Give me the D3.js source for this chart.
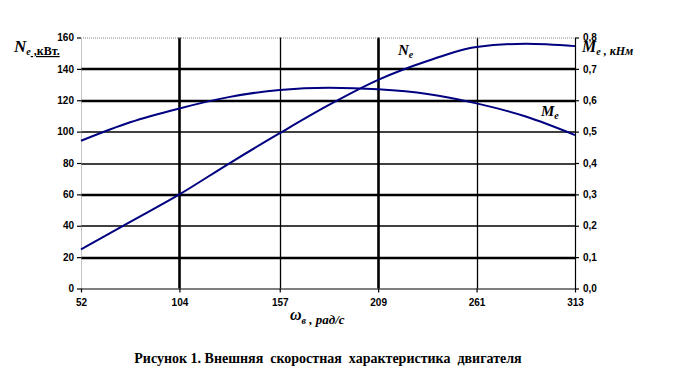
<!DOCTYPE html>
<html>
<head>
<meta charset="utf-8">
<script src="https://cdn.jsdelivr.net/npm/d3@7"></script>
<style>
  body { margin: 0; background: #fff; }
  .title { font-family: "Liberation Serif", "Times New Roman", serif; font-weight: bold; font-style: italic; fill: #000; }
</style>
</head>
<body>
<div id="chart"></div>
<script>
// Data
const omega = [52, 78, 104, 130, 157, 183, 209, 235, 261, 287, 313];
const powerN = [25, 42.5, 60, 79.5, 99, 117, 133, 145, 154, 156, 154.5];
const torqueM = [0.471, 0.53, 0.574, 0.61, 0.633, 0.64, 0.635, 0.62, 0.59, 0.548, 0.489];
const xTicks = [52, 104, 157, 209, 261, 313];
const leftTicks = [0, 20, 40, 60, 80, 100, 120, 140, 160];
const rightTicks = [0, 0.1, 0.2, 0.3, 0.4, 0.5, 0.6, 0.7, 0.8];

const width = 682, height = 383;
const margin = { left: 81, top: 37.5, right: 107, bottom: 94.5 };
const innerWidth = width - margin.left - margin.right;
const innerHeight = height - margin.top - margin.bottom;

const svg = d3.select("#chart")
  .append("svg")
    .attr("width", width)
    .attr("height", height);

const inner = svg.append("g")
  .attr("transform", `translate(${margin.left}, ${margin.top})`);

/* scales */
const xScale = d3.scaleLinear().domain([52, 313]).range([0, innerWidth]);
const yLeft = d3.scaleLinear().domain([0, 160]).range([innerHeight, 0]);
const yRight = d3.scaleLinear().domain([0, 0.8]).range([innerHeight, 0]);

/* gridlines */
const thickH = [140, 120, 60, 20];
const thickV = [104, 209];
inner.selectAll(".grid-h")
  .data(leftTicks.filter(d => d > 0 && d < 160))
  .join("line")
    .attr("x1", 0).attr("x2", innerWidth)
    .attr("y1", d => Math.round(yLeft(d)) + 0.5)
    .attr("y2", d => Math.round(yLeft(d)) + 0.5)
    .attr("stroke", "#000")
    .attr("stroke-width", d => thickH.includes(d) ? 2.6 : 1.3);
inner.selectAll(".grid-v")
  .data(xTicks.slice(1, -1))
  .join("line")
    .attr("x1", d => Math.round(xScale(d)) + 0.5)
    .attr("x2", d => Math.round(xScale(d)) + 0.5)
    .attr("y1", 0).attr("y2", innerHeight)
    .attr("stroke", "#000")
    .attr("stroke-width", d => thickV.includes(d) ? 2.6 : 1.3);

// dotted plot-area border (top, left)
inner.append("path")
  .attr("d", `M0.5,${innerHeight} L0.5,0.5 L${innerWidth},0.5`)
  .attr("fill", "none")
  .attr("stroke", "#888")
  .attr("stroke-dasharray", "1,1");

/* axes */
const leftAxis = d3.axisLeft(yLeft).tickValues(leftTicks).tickSize(4).tickSizeOuter(0).tickPadding(3);
inner.append("g").attr("class", "axis-left").call(leftAxis)
  .call(g => g.select(".domain").remove());

const rightAxis = d3.axisRight(yRight).tickValues(rightTicks).tickSize(4).tickSizeOuter(0).tickPadding(4)
  .tickFormat(d => d3.format(".1f")(d).replace(".", ","));
inner.append("g").attr("class", "axis-right")
  .attr("transform", `translate(${innerWidth}, 0)`)
  .call(rightAxis);

const bottomAxis = d3.axisBottom(xScale).tickValues(xTicks).tickSize(4).tickSizeOuter(0).tickPadding(6);
inner.append("g").attr("class", "axis-bottom")
  .attr("transform", `translate(0, ${innerHeight})`)
  .call(bottomAxis);

inner.selectAll("g.axis-left, g.axis-right, g.axis-bottom")
  .attr("font-family", "'Liberation Sans', Arial, sans-serif")
  .attr("font-size", 10)
  .attr("font-weight", "bold");
svg.selectAll(".tick text").attr("fill", "#000");
svg.selectAll(".domain, .tick line").attr("stroke", "#000").attr("stroke-width", 1.2);

/* curves */
const lineN = d3.line()
  .x((d, i) => xScale(omega[i]))
  .y(d => yLeft(d))
  .curve(d3.curveMonotoneX);
const lineM = d3.line()
  .x((d, i) => xScale(omega[i]))
  .y(d => yRight(d))
  .curve(d3.curveMonotoneX);

inner.append("path").datum(powerN)
  .attr("d", lineN)
  .attr("fill", "none").attr("stroke", "#000080").attr("stroke-width", 2);
inner.append("path").datum(torqueM)
  .attr("d", lineM)
  .attr("fill", "none").attr("stroke", "#000080").attr("stroke-width", 2);

/* curve labels */
const curveLabel = (x, y, main, sub) => {
  const t = svg.append("text").attr("class", "title").attr("x", x).attr("y", y).style("font-size", "15px");
  t.append("tspan").text(main);
  t.append("tspan").text(sub).attr("dy", 3).style("font-size", "10px");
};
curveLabel(398, 55, "N", "e");
curveLabel(541, 116, "M", "e");

/* axis titles */
const leftTitle = svg.append("text").attr("class", "title").attr("x", 14).attr("y", 52);
leftTitle.append("tspan").text("N").style("font-size", "17px");
leftTitle.append("tspan").text("e").attr("dy", 3).style("font-size", "10px");
leftTitle.append("tspan").text(" ,кВт.").style("font-size", "12px").style("font-style", "normal")
  .attr("text-decoration", "underline");

const rightTitle = svg.append("text").attr("class", "title").attr("x", 582).attr("y", 52);
rightTitle.append("tspan").text("M").style("font-size", "16px");
rightTitle.append("tspan").text("e").attr("dy", 3).style("font-size", "10px");
rightTitle.append("tspan").text(" , кНм").style("font-size", "12px");

const xTitle = svg.append("text").attr("class", "title").attr("x", 290).attr("y", 320);
xTitle.append("tspan").text("ω").style("font-size", "16px");
xTitle.append("tspan").text("в").attr("dy", 4).style("font-size", "10px");
xTitle.append("tspan").text(" , рад/с").style("font-size", "13px");

/* caption */
svg.append("text")
  .attr("x", 328).attr("y", 363)
  .attr("text-anchor", "middle")
  .style("font-family", "'Liberation Serif', 'Times New Roman', serif")
  .style("font-weight", "bold")
  .style("font-size", "14px")
  .style("white-space", "pre")
  .text("Рисунок 1. Внешняя  скоростная  характеристика  двигателя");
</script>
</body>
</html>
